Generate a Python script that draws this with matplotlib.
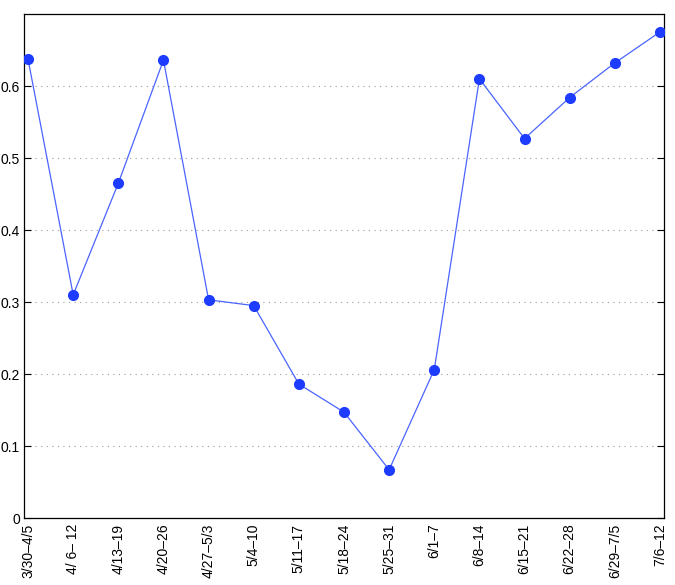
import matplotlib
matplotlib.use("Agg")
from matplotlib import pyplot as plt

weeks = ["3/30\u20134/5", "4/ 6\u2013 12", "4/13\u201319", "4/20\u201326", "4/27\u20135/3",
         "5/4\u201310", "5/11\u201317", "5/18\u201324", "5/25\u201331", "6/1\u20137",
         "6/8\u201314", "6/15\u201321", "6/22\u201328", "6/29\u20137/5", "7/6\u201312"]
values = [0.637, 0.310, 0.465, 0.636, 0.303,
          0.295, 0.186, 0.147, 0.067, 0.206,
          0.610, 0.527, 0.584, 0.632, 0.675]
y_ticks = [0, 0.1, 0.2, 0.3, 0.4, 0.5, 0.6]

plt.rcParams["font.family"] = ["Liberation Sans", "DejaVu Sans"]

fig = plt.figure(figsize=(6.75, 5.85), dpi=100)
ax = fig.add_axes([24 / 675, 67 / 585, 640 / 675, 504 / 585])

x = list(range(1, len(values) + 1))
ax.plot(x, values, color="#4a64ff", linewidth=0.9, zorder=3)
ax.plot(x, values, linestyle="none", marker="o", markersize=7,
        color="#1e3cff", zorder=4)

ax.set_xlim(0.91, 15.09)
ax.set_ylim(0, 0.7)
ax.set_xticks(x)
ax.set_xticklabels(weeks, rotation=90, fontsize=10)
ax.set_yticks(y_ticks)
ax.set_yticklabels(["0", "0.1", "0.2", "0.3", "0.4", "0.5", "0.6"], fontsize=10)

ax.yaxis.grid(True, linestyle=(0, (1, 4)), color="#999999", linewidth=0.8)
ax.tick_params(axis="y", direction="in", right=True, length=5, width=0.8, pad=3)
ax.tick_params(axis="x", direction="in", length=0, pad=4)
for s in ax.spines.values():
    s.set_linewidth(0.9)

plt.savefig("out.png", dpi=100)
